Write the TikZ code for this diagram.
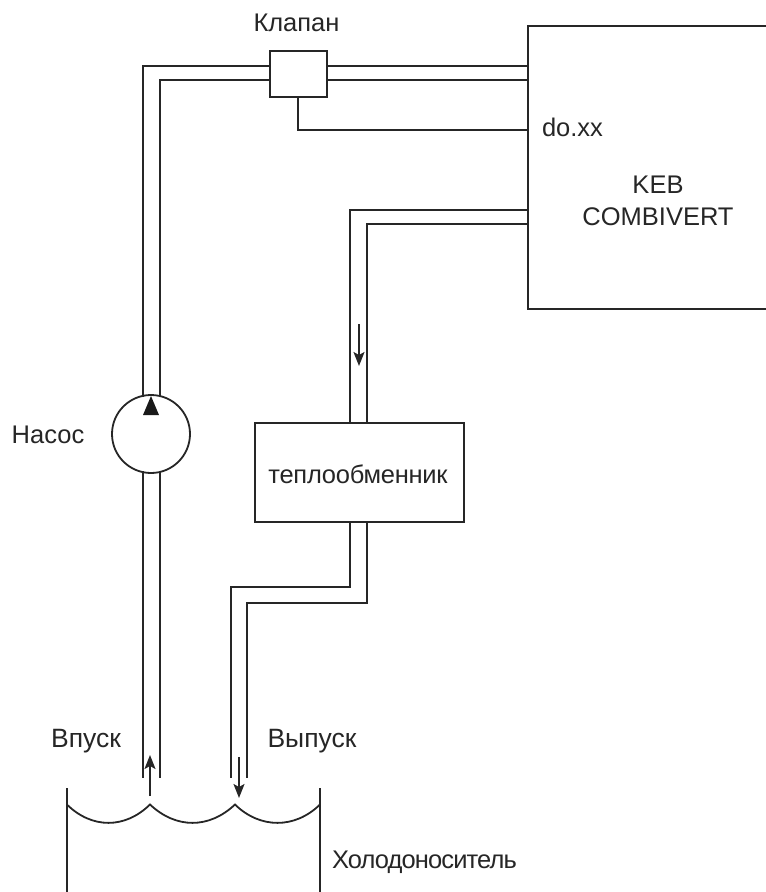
\documentclass[tikz,border=0pt]{standalone}
\usepackage{fontspec}
\setmainfont{Liberation Sans}
\usetikzlibrary{arrows.meta}
\tikzset{
 pipe/.style={line width=1.8pt,draw=black!85,line join=miter},
 box/.style={pipe,fill=white,draw,rectangle,inner sep=0pt},
 lbl/.style={font=\fontsize{25.5}{32}\selectfont,text=black!85,inner sep=0pt,align=center,anchor=base},
 lblb/.style={lbl,font=\fontsize{26.5}{32}\selectfont},
 flow/.style={line width=1.8pt,draw=black!85,-{Stealth[length=14pt,width=11pt,inset=3pt]}},
}
\begin{document}
\begin{tikzpicture}[x=1pt,y=-1pt]
\useasboundingbox (0,0) rectangle (766,892);
% named coordinates
\coordinate (keb) at (528,26);
\coordinate (kebb) at (766,309);
\draw[pipe] (766,26) -- (keb) -- (528,309) -- (kebb);
\coordinate (vA) at (528,66); \coordinate (vB) at (528,80);
\coordinate (doP) at (528,130);
\coordinate (hA) at (528,210); \coordinate (hB) at (528,224);
% pipes
\node[box,minimum width=57pt,minimum height=46pt] (valve) at (298.5,74) {};
\node[box,minimum width=209pt,minimum height=99pt] (hx) at (359.5,472.5) {};
\node[circle,pipe,fill=white,draw,minimum size=78pt,inner sep=0pt] (pump) at (151,434) {};
\coordinate (pa1) at (143,397); \coordinate (pa2) at (160,397);
\coordinate (pb1) at (143,471); \coordinate (pb2) at (160,471);
\draw[pipe] (pa1) -- (143,66) -- (270,66);
\draw[pipe] (pa2) -- (160,80) -- (270,80);
\draw[pipe] (327,66) -- (vA);
\draw[pipe] (327,80) -- (vB);
\draw[pipe] (298,97) -- (298,130) -- (doP);
\draw[pipe] (hA) -- (350,210) -- (350,423);
\draw[pipe] (hB) -- (367,224) -- (367,423);
\draw[pipe] (350,522) -- (350,587) -- (231,587) -- (231,778);
\draw[pipe] (367,522) -- (367,603) -- (247,603) -- (247,778);
\draw[pipe] (pb1) -- (143,778);
\draw[pipe] (pb2) -- (160,778);
\fill[black!90] (151,396) -- (159,415) -- (143,415) -- cycle;
% flow arrows
\coordinate (f1a) at (359,324); \coordinate (f1b) at (359,366);
\draw[flow] (f1a) -- (f1b);
\coordinate (f2a) at (150,796); \coordinate (f2b) at (150,755);
\draw[flow] (f2a) -- (f2b);
\coordinate (f3a) at (239,757); \coordinate (f3b) at (239,798);
\draw[flow] (f3a) -- (f3b);
% tank
\draw[pipe] (66.9,788) -- (66.9,892);
\draw[pipe] (320,788) -- (320,892);
\draw[pipe] (66.9,804.5) .. controls (92,829) and (125,829) .. (150,804.5)
  .. controls (176,829) and (209,829) .. (235,804.5)
  .. controls (260,829) and (295,829) .. (320,804.5);
% labels
\node[lbl] (t1) at (296.5,31) {Клапан};
\node[lbl] (t2) at (572.5,136) {do.xx};
\node[lbl] (t3a) at (658,193) {KEB};
\node[lbl] (t3b) at (658,225) {COMBIVERT};
\node[lbl] (t4) at (48,443) {Насос};
\node[lbl] (t5) at (358,483) {\addfontfeatures{LetterSpace=-1}теплообменник};
\node[lblb] (t6) at (86,747) {Впуск};
\node[lblb] (t7) at (312,747) {Выпуск};
\node[lbl] (t8) at (424.5,868) {\addfontfeatures{LetterSpace=-3.5}Холодоноситель};
\end{tikzpicture}
\end{document}
